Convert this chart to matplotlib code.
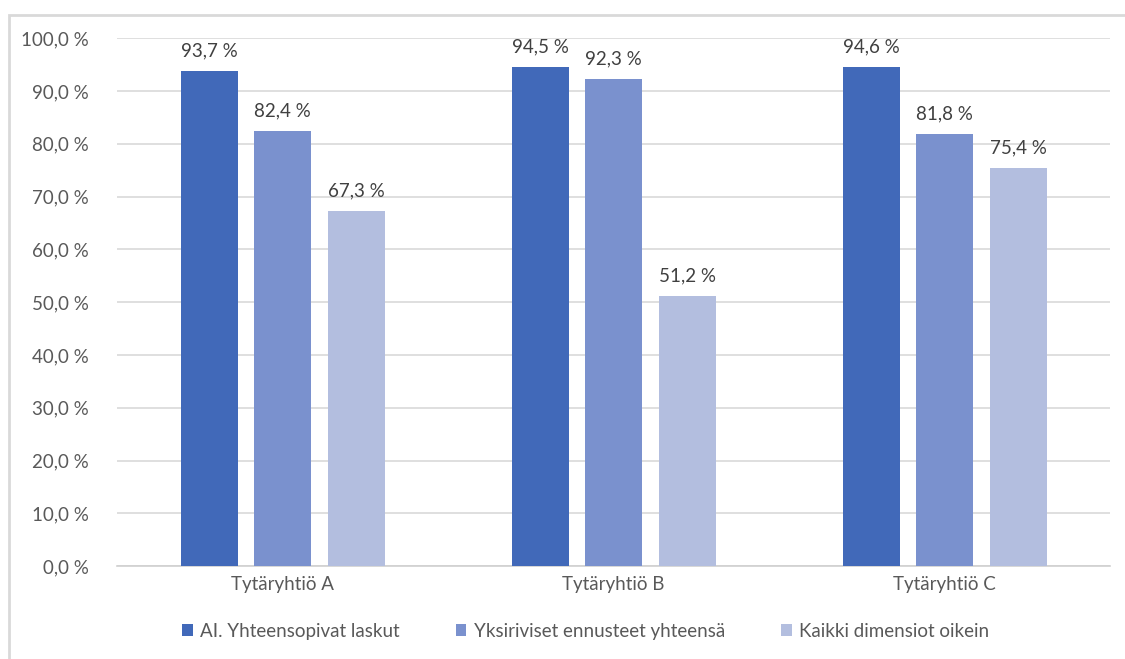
import numpy as np
import matplotlib.pyplot as plt
from matplotlib.patches import Rectangle

plt.rcParams['font.family'] = ['Lato', 'DejaVu Sans']

categories = ["Tytäryhtiö A", "Tytäryhtiö B", "Tytäryhtiö C"]
series_names = ["AI. Yhteensopivat laskut", "Yksiriviset ennusteet yhteensä",
                "Kaikki dimensiot oikein"]
values = [
    [93.7, 94.5, 94.6],
    [82.4, 92.3, 81.8],
    [67.3, 51.2, 75.4],
]
colors = ["#4169B9", "#7A91CE", "#B3BEDF"]
yticks = [0, 10, 20, 30, 40, 50, 60, 70, 80, 90, 100]

fig = plt.figure(figsize=(11.25, 6.59), dpi=100)
ax = fig.add_axes([0.104, 0.141, 0.883, 0.801])

# ulkokehys
fig.patches.append(Rectangle((9 / 1125, -0.1), 1.2, (659 - 15) / 659 + 0.1,
                             transform=fig.transFigure, fill=False,
                             edgecolor="#D9D9D9", linewidth=2))

fs = 13.5
x = np.arange(len(categories))
width = 0.172
step = 0.222
for i, (name, vals, col) in enumerate(zip(series_names, values, colors)):
    pos = x + (i - 1) * step
    ax.bar(pos, vals, width, color=col, label=name, zorder=3)
    for px, v in zip(pos, vals):
        ax.text(px, v + 2.2, f"{v:.1f} %".replace(".", ","), ha="center",
                va="bottom", fontsize=fs, color="#404040")

ax.set_xlim(-0.5, 2.5)
ax.set_ylim(0, 100)
ax.set_yticks(yticks)
ax.set_yticklabels([f"{t:.1f} %".replace(".", ",") for t in yticks],
                   fontsize=fs, color="#595959")
ax.set_xticks(x)
ax.set_xticklabels(categories, fontsize=fs, color="#595959")
ax.tick_params(length=0, pad=7)
ax.tick_params(axis="y", pad=20)
ax.grid(axis="y", color="#D9D9D9", linewidth=1.2, zorder=0)
for s in ["top", "right", "left"]:
    ax.spines[s].set_visible(False)
ax.spines["bottom"].set_color("#D0D0D0")
ax.spines["bottom"].set_linewidth(1.2)

ax.legend(loc="upper center", bbox_to_anchor=(0.472, -0.075), ncol=3,
          frameon=False, fontsize=fs, handlelength=0.55, handleheight=0.55,
          handletextpad=0.4, columnspacing=3.0, labelcolor="#595959")

fig.savefig("out.png", dpi=100)
